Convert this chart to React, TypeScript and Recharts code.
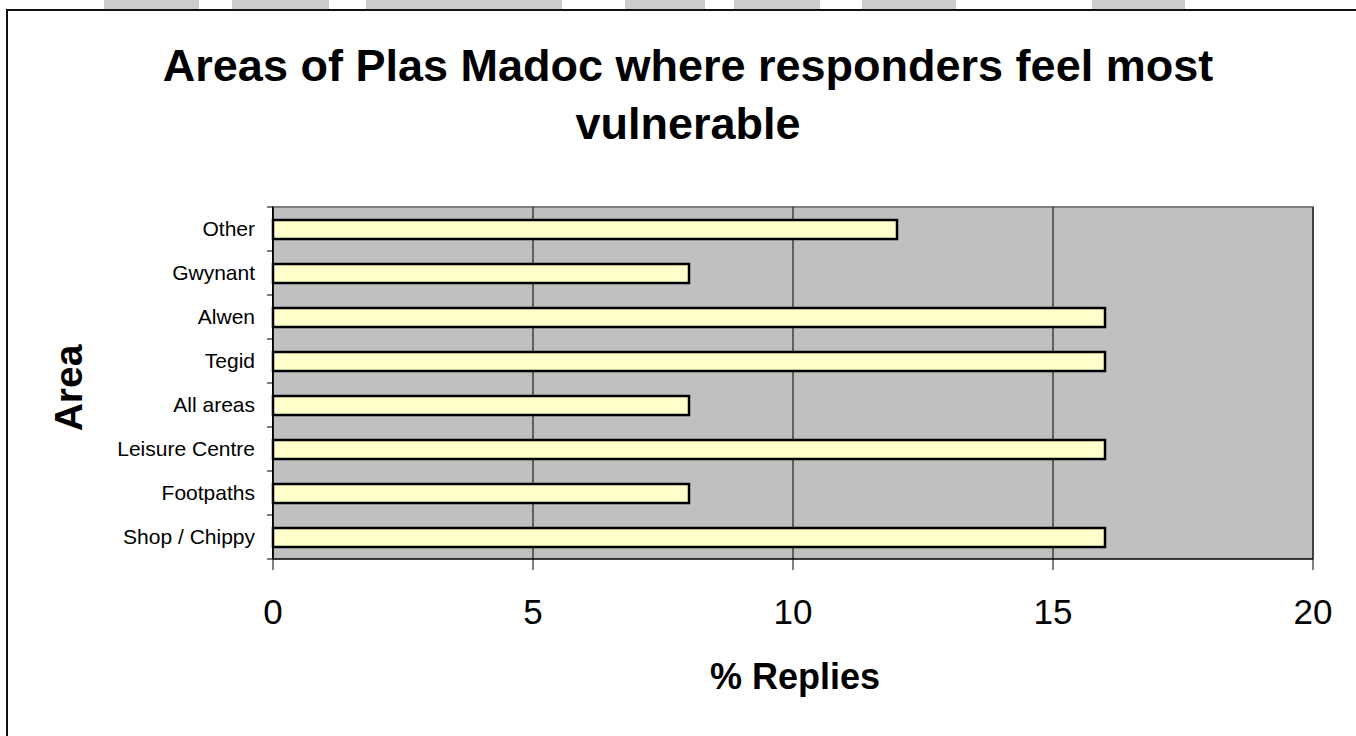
import React from 'react';
import { BarChart, Bar, XAxis, YAxis, CartesianGrid } from 'recharts';

// top to bottom, as in the sheet
const areas = ['Other', 'Gwynant', 'Alwen', 'Tegid', 'All areas', 'Leisure Centre', 'Footpaths', 'Shop / Chippy'];
const replies = [12, 8, 16, 16, 8, 16, 8, 16];
const xTicks = [0, 5, 10, 15, 20];

const titleLines = ['Areas of Plas Madoc where responders feel most', 'vulnerable'];

// grey blocks of the page behind the chart (x start, x end)
const stripes = [[104, 199], [232, 329], [366, 562], [625, 705], [734, 820], [862, 956], [1092, 1185]];

const rows = areas.map((area, i) => ({ area, pct: replies[i] }));

const FONT = '"Liberation Sans", Arial, sans-serif';
const W = 1356;
const H = 736;
const M = { top: 207, right: 43, bottom: 87, left: 0 };
const Y_AXIS_W = 273;
const X_AXIS_H = 90;
const TICK = 6;
const GAP = 12;
const plotW = W - M.left - M.right - Y_AXIS_W;
const plotH = H - M.top - M.bottom - X_AXIS_H;
const band = plotH / areas.length;

// category label plus Excel-style tick marks on the band edges
const AreaTick = (props: any) => {
  const { x, y, payload, index } = props;
  const ax = x + TICK + GAP;
  const top = payload.coordinate - band / 2;
  return (
    <g>
      <line x1={ax - TICK} x2={ax} y1={top} y2={top} stroke="#000" />
      {index === areas.length - 1 && (
        <line x1={ax - TICK} x2={ax} y1={top + band} y2={top + band} stroke="#000" />
      )}
      <text x={x} y={y} dy="0.355em" textAnchor="end" fontSize={21} fill="#000" fontFamily={FONT}>
        {payload.value}
      </text>
    </g>
  );
};

export default function App() {
  return (
    <div style={{ position: 'absolute', left: 0, top: 0, width: W, height: H, overflow: 'hidden', background: '#fff', fontFamily: FONT }}>
      {stripes.map(([a, b], i) => (
        <div key={i} style={{ position: 'absolute', left: a, top: 0, width: b - a, height: 9, background: '#cccccc' }} />
      ))}
      <div style={{ position: 'absolute', left: 6, top: 9, width: 1400, height: 800, borderTop: '2px solid #111', borderLeft: '2px solid #111' }} />

      {/* plot area background with the grey top/right frame */}
      <div
        style={{
          position: 'absolute',
          left: M.left + Y_AXIS_W - 1,
          top: M.top - 1,
          width: plotW + 2,
          height: plotH + 1,
          boxSizing: 'border-box',
          background: '#c0c0c0',
          borderTop: '2px solid #808080',
          borderRight: '2px solid #808080',
          borderLeft: '1px solid #000',
        }}
      />

      <div style={{ position: 'absolute', left: 0, top: 0 }}>
        <BarChart layout="vertical" width={W} height={H} data={rows} margin={M}>
          <CartesianGrid horizontal={false} stroke="#000" strokeWidth={1} />
          <XAxis
            type="number"
            domain={[0, 20]}
            ticks={xTicks}
            height={X_AXIS_H}
            tickSize={11}
            tickMargin={29}
            axisLine={{ stroke: '#000', strokeWidth: 1.5 }}
            tickLine={{ stroke: '#000' }}
            tick={{ fontSize: 35, fill: '#000', fontFamily: FONT }}
          />
          <YAxis
            type="category"
            dataKey="area"
            width={Y_AXIS_W}
            tickLine={false}
            axisLine={{ stroke: '#000', strokeWidth: 1.5 }}
            tickSize={TICK}
            tickMargin={GAP}
            tick={AreaTick}
          />
          <Bar dataKey="pct" barSize={19} fill="#ffffcc" stroke="#000" strokeWidth={2.5} isAnimationActive={false} />
        </BarChart>
      </div>

      <svg width={W} height={H} style={{ position: 'absolute', left: 0, top: 0, pointerEvents: 'none' }}>
        {titleLines.map((t, i) => (
          <text key={i} x={688} y={81 + i * 58} textAnchor="middle" fontSize={45} fontWeight="bold" fontFamily={FONT} fill="#000">
            {t}
          </text>
        ))}
        <text transform="translate(82,388) rotate(-90)" textAnchor="middle" fontSize={39} fontWeight="bold" fontFamily={FONT} fill="#000">
          Area
        </text>
        <text x={795} y={689} textAnchor="middle" fontSize={36} fontWeight="bold" fontFamily={FONT} fill="#000">
          % Replies
        </text>
      </svg>
    </div>
  );
}
